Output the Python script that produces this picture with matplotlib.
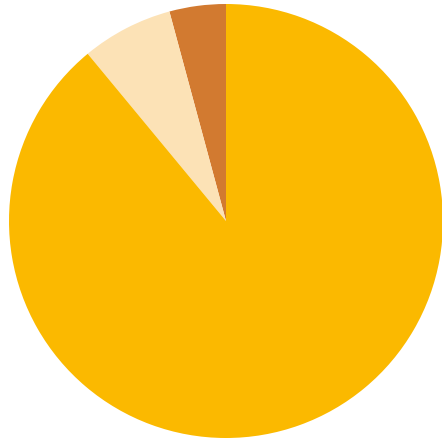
import matplotlib
matplotlib.use("Agg")
import matplotlib.pyplot as plt

# shares (counter-clockwise from 12 o'clock)
labels = ["C", "B", "A"]
shares = [4.2, 6.8, 89.0]
colors = ["#D27A30", "#FCE2B6", "#FBB900"]

fig = plt.figure(figsize=(4.42, 4.40), dpi=100)
ax = fig.add_axes([0, 0, 1, 1])
ax.pie(shares, colors=colors, startangle=90, counterclock=True,
       center=(226, 219), radius=217, frame=True,
       wedgeprops=dict(linewidth=0))
ax.set_xlim(0, 442)
ax.set_ylim(0, 440)
ax.set_aspect("equal")
ax.axis("off")

fig.savefig("out.png", dpi=100)
